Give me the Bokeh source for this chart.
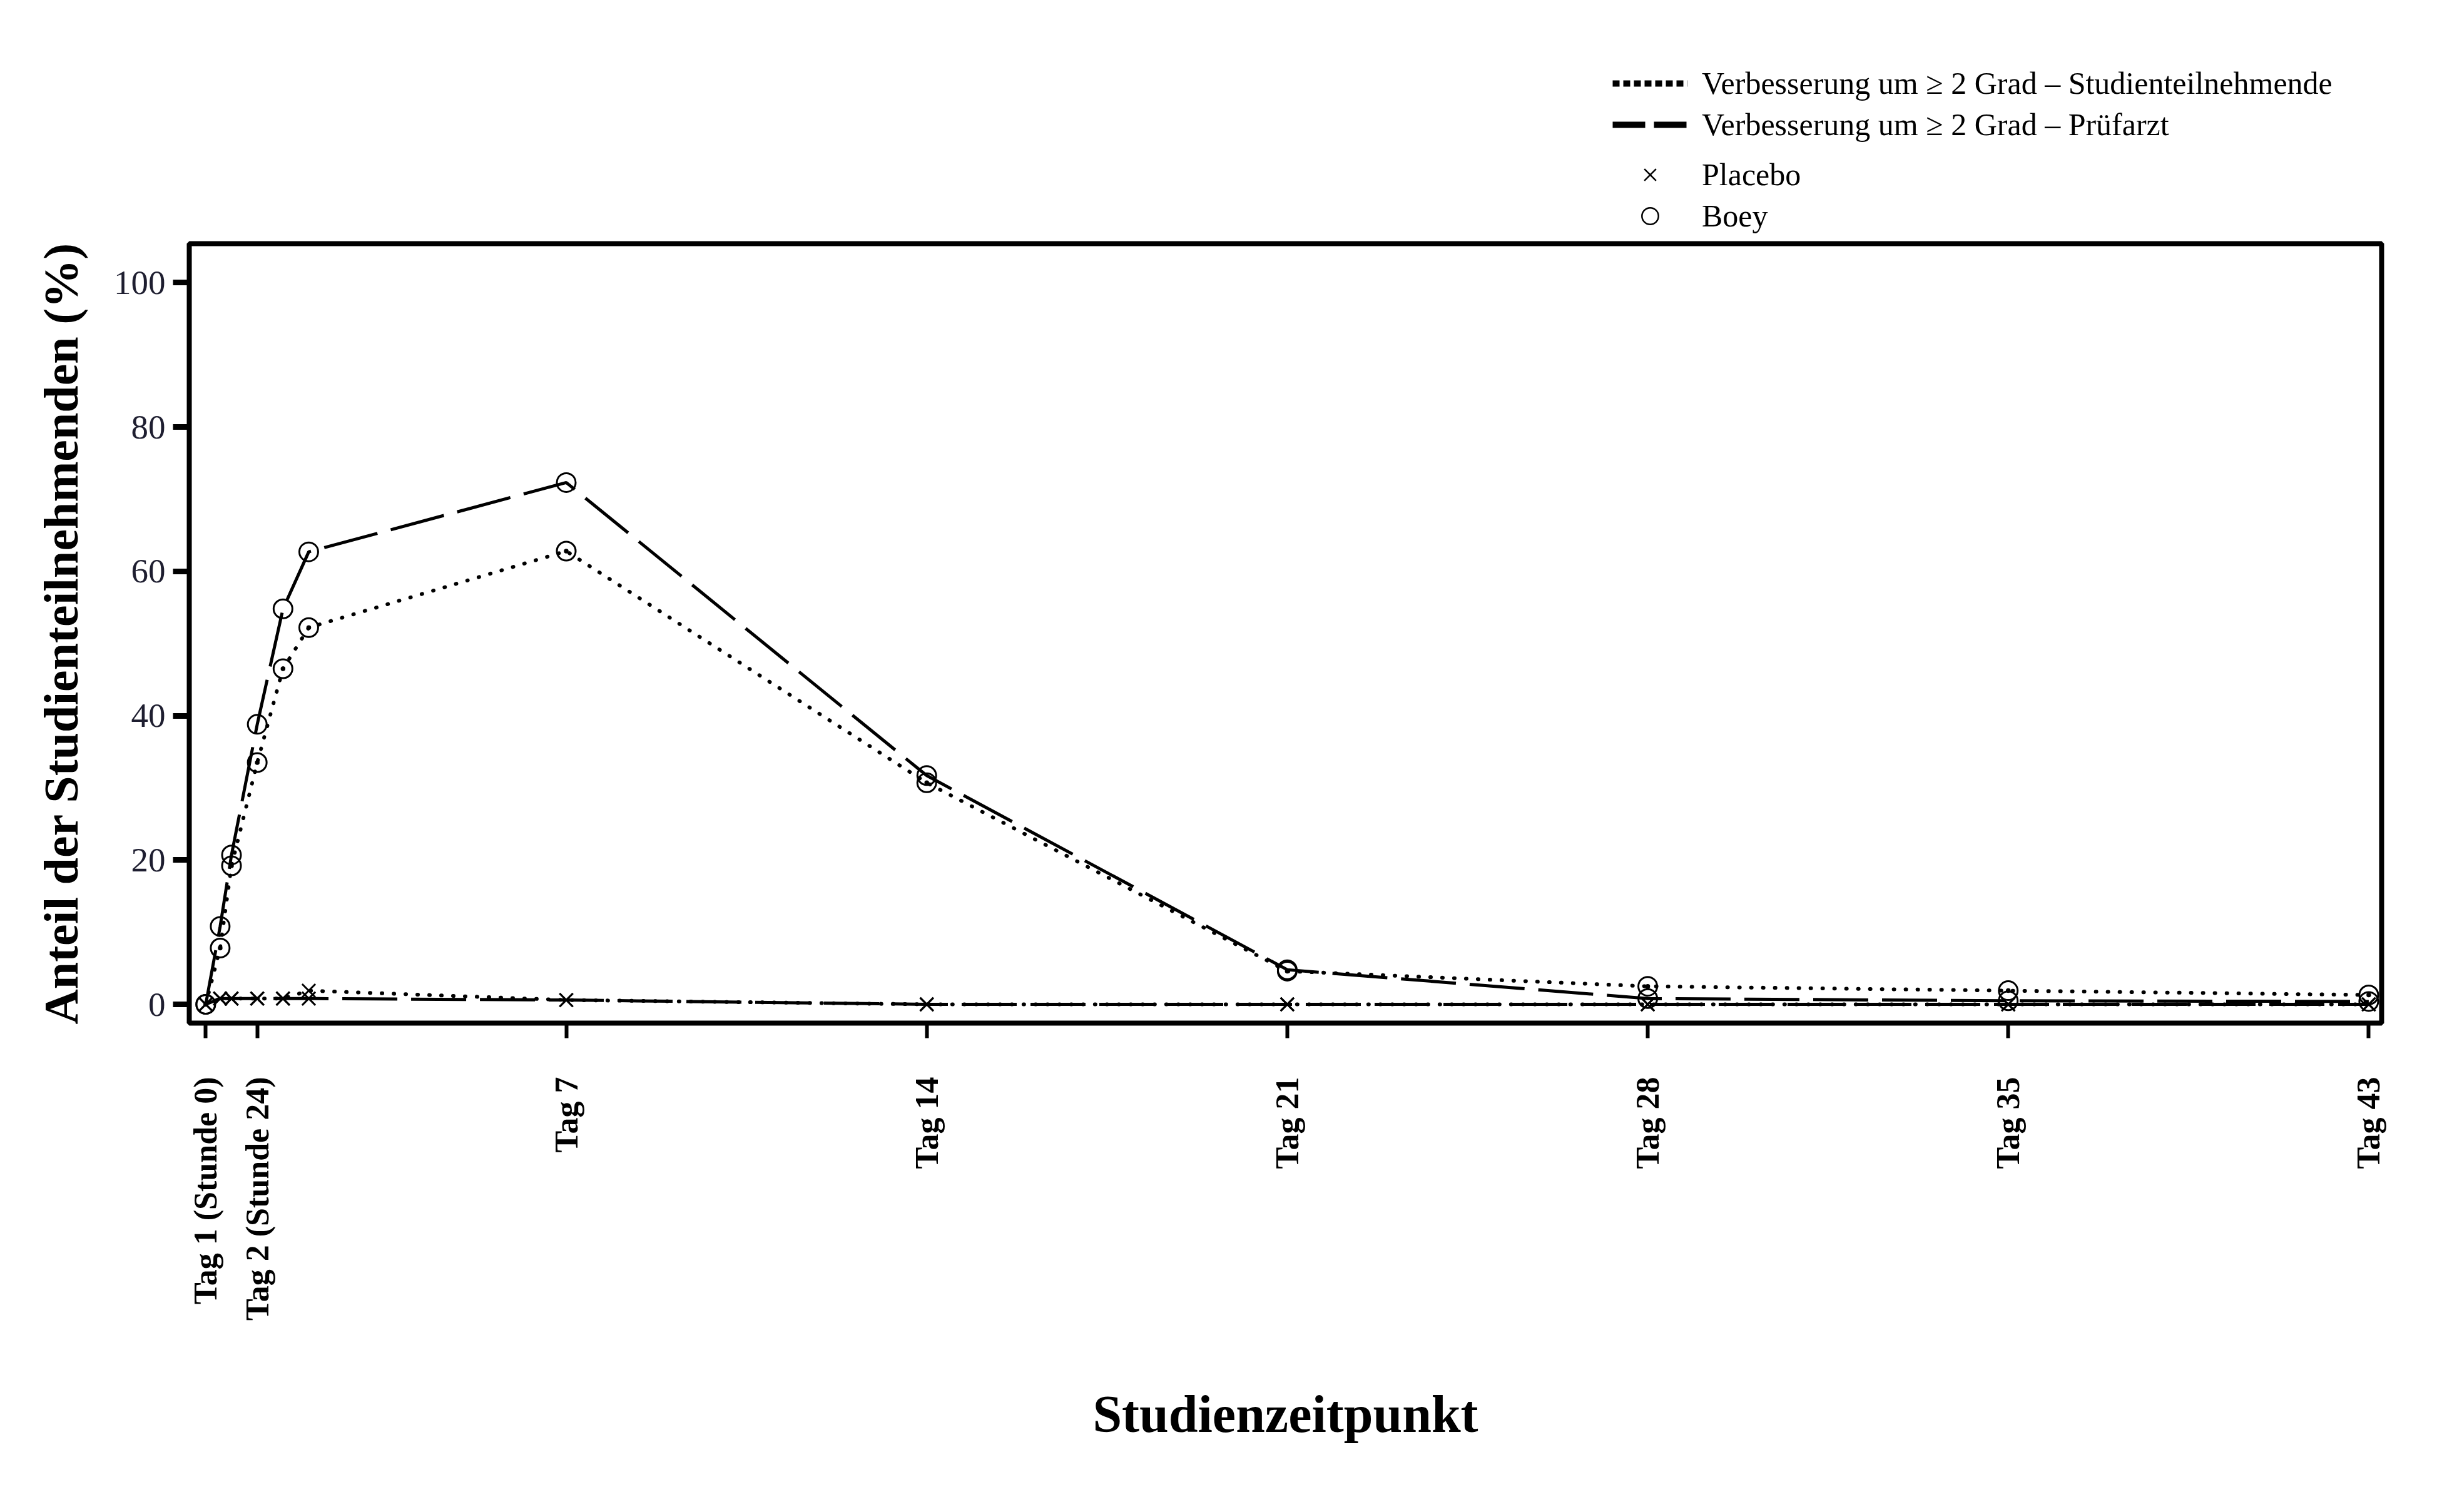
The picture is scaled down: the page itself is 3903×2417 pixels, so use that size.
import math
from bokeh.plotting import figure
from bokeh.layouts import column
from bokeh.models import Range1d, Legend, LegendItem, FixedTicker
from bokeh.embed import file_html
from bokeh.resources import INLINE

# ---- data ----
time_pos = [0, 0.28, 0.5, 1, 1.5, 2, 7, 14, 21, 28, 35, 42]
tick_pos = [0, 1, 7, 14, 21, 28, 35, 42]
tick_labels = ["Tag 1 (Stunde 0)", "Tag 2 (Stunde 24)", "Tag 7", "Tag 14",
               "Tag 21", "Tag 28", "Tag 35", "Tag 43"]
y_ticks = [0, 20, 40, 60, 80, 100]

boey_teilnehmende = [0, 7.8, 19.2, 33.5, 46.5, 52.2, 62.8, 30.7, 4.6, 2.5, 1.9, 1.3]
boey_pruefarzt = [0, 10.8, 20.7, 38.8, 54.8, 62.7, 72.3, 31.7, 4.8, 0.8, 0.5, 0.4]
placebo_teilnehmende = [0, 0.8, 0.8, 0.8, 0.8, 1.9, 0.6, 0, 0, 0, 0, 0]
placebo_pruefarzt = [0, 0.8, 0.8, 0.8, 0.8, 0.8, 0.6, 0, 0, 0, 0, 0]

legend_line_labels = ["Verbesserung um \u2265 2 Grad \u2013 Studienteilnehmende",
                      "Verbesserung um \u2265 2 Grad \u2013 Pr\u00fcfarzt"]
legend_marker_labels = ["Placebo", "Boey"]

SERIF = "Liberation Serif"
W = 3887
TOP_H = 379

# ---------------- legend strip ----------------
lp = figure(width=W, height=TOP_H, output_backend="svg", toolbar_location=None,
            x_range=Range1d(0, 1), y_range=Range1d(0, 1), min_border=0)
lp.axis.visible = False
lp.xgrid.visible = False
lp.ygrid.visible = False
lp.outline_line_color = None
lp.background_fill_color = "white"
lp.border_fill_color = "white"

# sample renderers: their points lie outside the strip's ranges, only the legend shows them
off = [-3, -2]
leg_dot = lp.line(off, off, line_color="black", line_width=10, line_dash="11 6")
leg_dash = lp.line(off, off, line_color="black", line_width=10, line_dash="52 14")
leg_x = lp.scatter(off, off, marker="x", line_color="black", line_width=2.5)
leg_o = lp.scatter(off, off, marker="circle", line_color="black", line_width=2.5,
                   fill_color=None)

def make_legend(items, loc, spacing, gh):
    return Legend(items=items, location=loc, orientation="vertical",
                  glyph_width=120, glyph_height=gh, label_height=gh,
                  label_standoff=23, spacing=spacing, padding=0, margin=0,
                  border_line_color=None, background_fill_alpha=0,
                  label_text_font=SERIF, label_text_font_size="50px",
                  label_text_color="black")

legend_a = make_legend([LegendItem(label=legend_line_labels[0], renderers=[leg_dot]),
                        LegendItem(label=legend_line_labels[1], renderers=[leg_dash])],
                       (2275, 151), 8, 56)
legend_b = make_legend([LegendItem(label=legend_marker_labels[0], renderers=[leg_x]),
                        LegendItem(label=legend_marker_labels[1], renderers=[leg_o])],
                       (2275, 1), -7, 66)
lp.add_layout(legend_a, "center")
lp.add_layout(legend_b, "center")

# ---------------- main chart ----------------
p = figure(width=W, height=2400 - TOP_H, output_backend="svg", toolbar_location=None,
           x_range=Range1d(-0.32, 42.25), y_range=Range1d(-2.6, 105.4),
           min_border_left=302, min_border_right=81, min_border_top=10,
           min_border_bottom=765)

p.xgrid.visible = False
p.ygrid.visible = False
p.outline_line_color = "black"
p.outline_line_width = 8
p.background_fill_color = "white"
p.border_fill_color = "white"

DOT = "1 18"
DASH = "88 22"

p.line(time_pos, placebo_pruefarzt, line_color="black", line_width=5, line_dash=DASH)
p.line(time_pos, placebo_teilnehmende, line_color="black", line_width=6,
       line_dash=DOT, line_cap="round")
p.line(time_pos, boey_pruefarzt, line_color="black", line_width=5, line_dash=DASH)
p.line(time_pos, boey_teilnehmende, line_color="black", line_width=6,
       line_dash=DOT, line_cap="round")

p.scatter(time_pos, placebo_pruefarzt, marker="x", size=30, line_color="black", line_width=3)
p.scatter(time_pos, placebo_teilnehmende, marker="x", size=30, line_color="black", line_width=3)
p.scatter(time_pos, boey_pruefarzt, marker="circle", size=30, line_color="black",
          line_width=3, fill_color=None)
p.scatter(time_pos, boey_teilnehmende, marker="circle_dot", size=30, line_color="black",
          line_width=3, fill_color=None)

p.xaxis.ticker = FixedTicker(ticks=tick_pos)
p.xaxis.major_label_overrides = {t: lab for t, lab in zip(tick_pos, tick_labels)}
p.xaxis.major_label_orientation = math.pi / 2
p.xaxis.minor_tick_line_color = None
p.xaxis.axis_line_color = None
p.xaxis.major_tick_out = 24
p.xaxis.major_tick_in = 0
p.xaxis.major_tick_line_width = 6
p.xaxis.major_label_standoff = 62
p.xaxis.major_label_text_font = SERIF
p.xaxis.major_label_text_font_style = "bold"
p.xaxis.major_label_text_font_size = "52px"
p.xaxis.major_label_text_color = "black"
p.xaxis.axis_label = "Studienzeitpunkt"
p.xaxis.axis_label_text_font = SERIF
p.xaxis.axis_label_text_font_style = "bold"
p.xaxis.axis_label_text_font_size = "84px"
p.xaxis.axis_label_text_color = "black"
p.xaxis.axis_label_standoff = 100

p.yaxis.ticker = FixedTicker(ticks=y_ticks)
p.yaxis.minor_tick_line_color = None
p.yaxis.axis_line_color = None
p.yaxis.major_tick_out = 26
p.yaxis.major_tick_in = 0
p.yaxis.major_tick_line_width = 9
p.yaxis.major_label_standoff = 12
p.yaxis.major_label_text_font = SERIF
p.yaxis.major_label_text_font_size = "55px"
p.yaxis.major_label_text_color = "#1e1e30"
p.yaxis.axis_label = "Anteil der Studienteilnehmenden (%)"
p.yaxis.axis_label_text_font = SERIF
p.yaxis.axis_label_text_font_style = "bold"
p.yaxis.axis_label_text_font_size = "78px"
p.yaxis.axis_label_text_color = "black"
p.yaxis.axis_label_standoff = 38

layout = column(lp, p, spacing=0)
open("out.html", "w").write(file_html(layout, INLINE))
